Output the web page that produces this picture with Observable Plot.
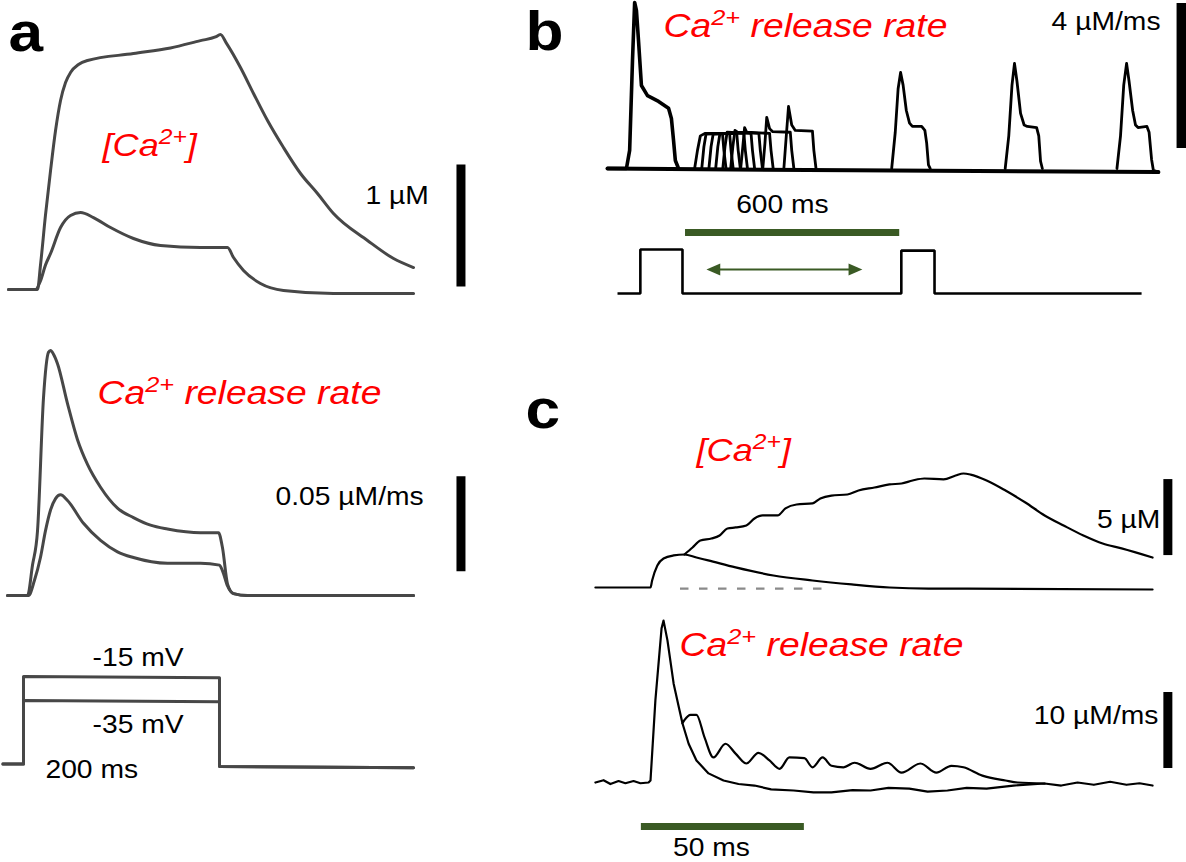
<!DOCTYPE html>
<html>
<head>
<meta charset="utf-8">
<script src="https://cdn.jsdelivr.net/npm/d3@7"></script>
<script src="https://cdn.jsdelivr.net/npm/@observablehq/plot@0.6"></script>
<style>
  html, body { margin: 0; padding: 0; background: #fff; }
  #fig { position: relative; width: 1186px; height: 862px; overflow: hidden; background: #fff; }
</style>
</head>
<body>
<div id="fig"></div>
<script>
// ---------------- DATA ----------------
// Panel a: time in ms from pulse onset
const aCaHigh = [[-15.3,0],[14.3,0],[17.3,0.197],[22.4,0.607],[27.6,0.975],[32.7,1.303],[37.8,1.549],[42.9,1.697],[48.0,1.779],[56.1,1.844],[65.3,1.877],[112.2,1.934],[150,1.98],[180.6,2.04],[195.9,2.07],[201,2.09],[207,2.02],[221.4,1.82],[234.7,1.607],[249,1.385],[265.3,1.164],[282.7,0.951],[300,0.787],[316.3,0.623],[351,0.402],[377.6,0.254],[398,0.18]];
const aCaLow = [[-15.3,0],[12.2,0],[17.3,0.07],[22.4,0.2],[27.6,0.295],[37.8,0.508],[48,0.607],[58.2,0.631],[71.4,0.59],[88.8,0.508],[112.2,0.418],[139.8,0.361],[180.6,0.344],[208.2,0.344],[214.3,0.262],[224.5,0.156],[241.8,0.049],[265.3,-0.008],[316.3,-0.033],[398,-0.033]];
const aRateHigh = [[-16.3,0],[4.1,0],[9.2,0.016],[14.3,0.034],[20.4,0.104],[25.5,0.128],[27.6,0.129],[30.6,0.127],[34.7,0.122],[44.9,0.101],[55.1,0.082],[65.3,0.069],[78.6,0.057],[95.9,0.046],[112.2,0.041],[129.6,0.037],[146.9,0.035],[180.6,0.033],[199,0.033],[203.1,0.025],[208.2,0.006],[214.3,0.001],[228.6,0],[398,0]];
const aRateLow = [[-16.3,0],[5.1,0],[11.2,0.008],[17.3,0.02],[22.4,0.034],[27.6,0.045],[32.7,0.051],[37.8,0.053],[44.9,0.05],[61.2,0.038],[78.6,0.029],[95.9,0.023],[112.2,0.02],[146.9,0.017],[180.6,0.017],[200,0.016],[203.1,0.013],[208.2,0.005],[214.3,0.001],[228.6,0],[398,0]];
const aVHigh = [[-21,-88],[0,-88],[0,-15],[200,-16],[200,-90],[398,-91]];
const aVLow = [[-21,-88],[0,-88],[0,-35],[200,-36],[200,-90],[398,-91]];

// Panel b: time in ms, release rate in µM/ms, voltage in mV
const bFirst = [[-84,0],[-31,0],[-22,0.5],[-14,2.98],[-8,4.58],[-3,4.36],[3,3.5],[11,2.29],[28,2.01],[59,1.85],[87,1.66],[95,1.38],[101,0.77],[106,0.22],[115,0]];
const bBaseline = [[-84,0],[600,-0.05],[1459,-0.1]];
const bSecond1 = [[160,0],[168,0.5],[176,0.9],[190,0.97],[238,0.97],[242,0.5],[248,0]];
const bSecond2 = [[180,0],[186,0.6],[192,0.95],[258,0.97],[262,0.5],[268,0]];
const bSecond3 = [[200,0],[206,0.6],[212,0.95],[278,0.97],[282,0.5],[288,0]];
const bSecond4 = [[219,0],[225,0.6],[231,0.97],[298,0.97],[302,0.5],[308,0]];
const bSecond5 = [[239,0],[245,0.6],[251,1.0],[318,0.97],[322,0.5],[328,0]];
const bSecond6 = [[261,0],[267,0.6],[273,1.05],[280,1.0],[340,0.97],[344,0.5],[350,0]];
const bSecond7 = [[289,0],[295,0.6],[300,1.13],[306,1.0],[370,0.97],[374,0.5],[380,0]];
const bSecond8 = [[351,0],[357,0.7],[362,1.41],[370,1.1],[378,1.02],[428,1.0],[432,0.5],[438,0]];
const bSecond9 = [[410,0],[416,0.8],[423,1.71],[432,1.2],[442,1.05],[490,1.03],[494,0.5],[500,0]];
const bSecond10 = [[712,0],[722,1.0],[730,2.2],[737,2.65],[744,2.3],[753,1.6],[762,1.25],[770,1.16],[796,1.16],[805,1.05],[810,0.7],[815,0.1],[820,0]];
const bSecond11 = [[1030,0],[1040,0.9],[1049,2.3],[1056,2.9],[1063,2.4],[1073,1.52],[1083,1.2],[1092,1.16],[1118,1.13],[1124,0.9],[1129,0.2],[1134,0]];
const bSecond12 = [[1343,0],[1353,0.9],[1362,2.3],[1370,2.9],[1377,2.4],[1387,1.6],[1395,1.2],[1402,1.13],[1427,1.16],[1433,1.0],[1440,0.25],[1445,-0.05],[1459,-0.1]];
const bSecond = [bSecond1,bSecond2,bSecond3,bSecond4,bSecond5,bSecond6,bSecond7,bSecond8,bSecond9,bSecond10,bSecond11,bSecond12];
const bPulse = [[-56,-80],[8,-80],[8,0],[126,0],[126,-80],[739,-80],[739,-2],[832,-2],[832,-80],[1412,-80]];

// Panel c: time in ms, [Ca2+] in µM, release rate in µM/ms
const cCaSingle = [[-16.9,0],[0,0],[0.5,0.46],[2.1,1.45],[4.0,1.91],[7.1,2.11],[10.4,2.17],[14.1,1.97],[17.7,1.78],[26.1,1.32],[37.7,0.79],[49.7,0.46],[61.7,0.2],[73.3,0.0],[85.3,-0.07],[97.2,-0.07],[154,-0.13]];
const cCaTrain = [[10.4,2.17],[12.9,2.63],[15.3,3.09],[18.7,3.22],[21.2,3.42],[23.6,3.88],[26.1,3.95],[29.4,4.08],[31.9,4.54],[34.4,4.74],[39.0,4.74],[41.4,5.2],[44.8,5.46],[49.7,5.53],[52.1,5.86],[55.5,6.05],[60.4,6.12],[63.8,6.38],[68.7,6.58],[73.3,6.78],[77.0,6.84],[80.4,7.04],[84.0,7.17],[89.9,7.11],[93.6,7.37],[96.0,7.5],[98.2,7.43],[103.1,7.04],[108.9,6.38],[115.0,5.59],[120.9,4.74],[126.7,4.08],[132.8,3.42],[138.7,2.89],[144.5,2.57],[154.0,1.97]];
const cRateSingle = [[-16.9,0],[-14.4,0.3],[-12.3,-0.2],[-9.8,0.2],[-7.7,-0.1],[-5.2,0.2],[-3.1,-0.1],[-0.6,0],[0,0.26],[1.5,10.8],[3.4,20.3],[4.0,21.3],[5.2,18.7],[7.1,13.0],[8.9,9.5],[9.8,7.8],[11.7,5.1],[14.1,2.9],[17.8,1.2],[22.4,0.26],[27,-0.2],[31.9,-0.4],[37,-0.9],[43.9,-1.05],[50,-1.3],[55.5,-1.3],[62,-1.0],[67.5,-1.05],[73,-0.7],[79.4,-0.8],[85,-1.2],[91.1,-1.05],[97,-0.7],[103.1,-0.8],[111.3,-0.4],[120.9,-0.13],[126,-0.4],[131,0.0],[136,-0.3],[141,0.1],[146,-0.3],[150,-0.1],[154,-0.4]];
const cRateTrain = [[9.8,7.8],[10.4,8.2],[12.3,8.9],[14.1,8.9],[16.6,5.9],[19.3,3.3],[23.0,5.1],[26.1,3.8],[29.4,2.5],[33.1,3.9],[36.5,2.9],[39.6,1.8],[42.6,3.3],[47.2,3.2],[49.7,2.0],[52.8,3.3],[55.5,2.2],[59.2,2.0],[62.6,2.6],[67.5,1.8],[72.7,2.6],[77.0,1.3],[82.8,2.5],[87.7,1.3],[92.3,2.2],[96.0,2.0],[101.8,0.9],[108.9,0.26],[112.6,0],[120.9,-0.13]];

// Labels
const panelLetters = ["a", "b", "c"];
const caLabel = "[Ca2+]";
const rateLabel = "Ca2+ release rate";
const aScale = {ca: 1, rate: 0.05};
const aScaleLabels = ["1 µM", "0.05 µM/ms"];
const aVoltLabels = ["-15 mV", "-35 mV"];
const aTimeLabel = "200 ms";
const bScale = 4, bScaleLabel = "4 µM/ms";
const bInterval = 600, bIntervalLabel = "600 ms";
const cScale = {ca: 5, rate: 10};
const cScaleLabels = ["5 µM", "10 µM/ms"];
const cTime = 50, cTimeLabel = "50 ms";

// ---------------- DRAWING ----------------
const FONT = "'Liberation Sans', Arial, Helvetica, sans-serif";
const GREEN = "#3a5a24";
const RED = "#ff0000";
const container = document.getElementById("fig");
const pts = a => a.map(([t, v]) => ({t, v}));
const trace = (data, o = {}) => Plot.line(pts(data), {x: "t", y: "v", stroke: "black", strokeWidth: 2.4, strokeLinejoin: "round", strokeLinecap: "round", ...o});
const label = (text, t, v, o = {}) => Plot.text([text], {x: t, y: v, text: d => d, fontSize: 25, fill: "black", textAnchor: "start", ...o});
const redLabel = (text, t, v, size) => label(text, t, v, {fill: RED, fontStyle: "italic", fontSize: size});
const letter = (text, t, v) => label(text, t, v, {fontSize: 55, fontWeight: "bold"});

function panel({left, top, width, height, x, y, marks}) {
  const svg = Plot.plot({
    width, height, margin: 0,
    x: {domain: x, axis: null},
    y: {domain: y, axis: null},
    style: {background: "transparent", overflow: "visible", fontFamily: FONT},
    marks
  });
  Object.assign(svg.style, {position: "absolute", left: left + "px", top: top + "px", maxWidth: "none"});
  container.appendChild(svg);
}

const aX = [-23.47, 466.33];
const aStroke = {stroke: "#474747", strokeWidth: 3, curve: "monotone-x"};

// a: [Ca2+]
panel({left: 0, top: 0, width: 480, height: 320, x: aX, y: [-0.254, 2.369], marks: [
  trace(aCaHigh, aStroke),
  trace(aCaLow, aStroke),
  Plot.ruleX([446.4], {y1: 0.02, y2: 0.02 + aScale.ca, stroke: "black", strokeWidth: 9}),
  label(aScaleLabels[0], 349, 0.77),
  redLabel(caLabel, 80.6, 1.18, 32),
  letter(panelLetters[0], -15.3, 2.103)
]});

// a: release rate
panel({left: 0, top: 320, width: 480, height: 300, x: aX, y: [-0.013158, 0.14474], marks: [
  trace(aRateHigh, aStroke),
  trace(aRateLow, aStroke),
  Plot.ruleX([446.4], {y1: 0.0125, y2: 0.0125 + aScale.rate, stroke: "black", strokeWidth: 9}),
  label(aScaleLabels[1], 257.1, 0.0516),
  redLabel(rateLabel, 75.5, 0.1064, 33)
]});

// a: voltage
panel({left: 0, top: 620, width: 480, height: 242, x: aX, y: [-170, 31.667], marks: [
  trace(aVHigh, {stroke: "#474747", strokeWidth: 3}),
  trace(aVLow, {stroke: "#474747", strokeWidth: 3}),
  label(aVoltLabels[0], 117, 0.83, {textAnchor: "middle"}),
  label(aVoltLabels[1], 117, -55, {textAnchor: "middle"}),
  label(aTimeLabel, 22.4, -92.5)
]});

// b
const bX = [-327.73, 1537.82];
const triRight = {draw(ctx, size) { const r = Math.sqrt(size / Math.PI); ctx.moveTo(1.3 * r, 0); ctx.lineTo(-r, -r); ctx.lineTo(-r, r); ctx.closePath(); }};
const triLeft = {draw(ctx, size) { const r = Math.sqrt(size / Math.PI); ctx.moveTo(-1.3 * r, 0); ctx.lineTo(r, -r); ctx.lineTo(r, r); ctx.closePath(); }};

panel({left: 520, top: 0, width: 666, height: 185, x: bX, y: [-0.469, 4.6345], marks: [
  trace(bBaseline, {strokeWidth: 4}),
  ...bSecond.map(s => trace(s, {strokeWidth: 2.8})),
  trace(bFirst, {strokeWidth: 3.6}),
  Plot.ruleX([1524], {y1: 0.55, y2: 0.55 + bScale, stroke: "black", strokeWidth: 10}),
  label(bScaleLabel, 1465, 4.03, {textAnchor: "end"}),
  redLabel(rateLabel, 73, 3.914, 33),
  letter(panelLetters[1], -313.7, 3.741)
]});

panel({left: 520, top: 185, width: 666, height: 125, x: bX, y: [-110.91, 116.36], marks: [
  trace(bPulse, {strokeWidth: 2.6, strokeLinecap: "butt", strokeLinejoin: "miter"}),
  Plot.ruleY([30.9], {x1: 134.5, x2: 134.5 + bInterval, stroke: GREEN, strokeWidth: 7}),
  label(bIntervalLabel, 406, 80, {textAnchor: "middle"}),
  Plot.ruleY([-36.4], {x1: 215, x2: 608, stroke: GREEN, strokeWidth: 2}),
  Plot.dot([{t: 215, v: -36.4}], {x: "t", y: "v", r: 6, symbol: triLeft, fill: GREEN, stroke: "none"}),
  Plot.dot([{t: 608, v: -36.4}], {x: "t", y: "v", r: 6, symbol: triRight, fill: GREEN, stroke: "none"})
]});

// c
const cX = [-39.877, 164.417];
panel({left: 520, top: 380, width: 666, height: 225, x: cX, y: [-1.1842, 13.618], marks: [
  Plot.ruleY([-0.07], {x1: 9.2, x2: 53.7, stroke: "#8a8a8a", strokeWidth: 2.2, strokeDasharray: "8.5,10.5"}),
  trace(cCaSingle, {strokeWidth: 2.2, curve: "monotone-x"}),
  trace(cCaTrain, {strokeWidth: 2.2, curve: "monotone-x"}),
  Plot.ruleX([158.7], {y1: 2.1, y2: 2.1 + cScale.ca, stroke: "black", strokeWidth: 9}),
  label(cScaleLabels[0], 156.4, 4.47, {textAnchor: "end"}),
  redLabel(caLabel, 14.1, 8.99, 32),
  letter(panelLetters[2], -38.34, 11.62)
]});

panel({left: 520, top: 605, width: 666, height: 257, x: cX, y: [-10.526, 23.289], marks: [
  trace(cRateSingle, {strokeWidth: 2.2}),
  trace(cRateTrain, {strokeWidth: 2.2, curve: "monotone-x"}),
  Plot.ruleX([158.7], {y1: 1.84, y2: 1.84 + cScale.rate, stroke: "black", strokeWidth: 9}),
  label(cScaleLabels[1], 155.8, 8.8, {textAnchor: "end"}),
  redLabel(rateLabel, 8.9, 18.05, 33),
  Plot.ruleY([-5.8], {x1: -2.8, x2: -2.8 + cTime, stroke: GREEN, strokeWidth: 7}),
  label(cTimeLabel, 18.7, -8.68, {textAnchor: "middle"})
]});

// superscripts and horizontal stretch of the lettering
const NS = "http://www.w3.org/2000/svg";
const STRETCH = 1.13;
container.querySelectorAll("text").forEach(el => {
  const txt = el.textContent;
  if (txt.includes("2+")) {
    const [pre, post] = txt.split("2+");
    el.textContent = pre;
    const sup = document.createElementNS(NS, "tspan");
    sup.style.fontSize = "68%";
    sup.setAttribute("dy", "-0.55em");
    sup.textContent = "2+";
    const rest = document.createElementNS(NS, "tspan");
    rest.setAttribute("dy", "0.374em");
    rest.textContent = post;
    el.append(sup, rest);
  }
  const w = el.getComputedTextLength();
  el.setAttribute("textLength", (w * STRETCH).toFixed(1));
  el.setAttribute("lengthAdjust", "spacingAndGlyphs");
});
</script>
</body>
</html>
